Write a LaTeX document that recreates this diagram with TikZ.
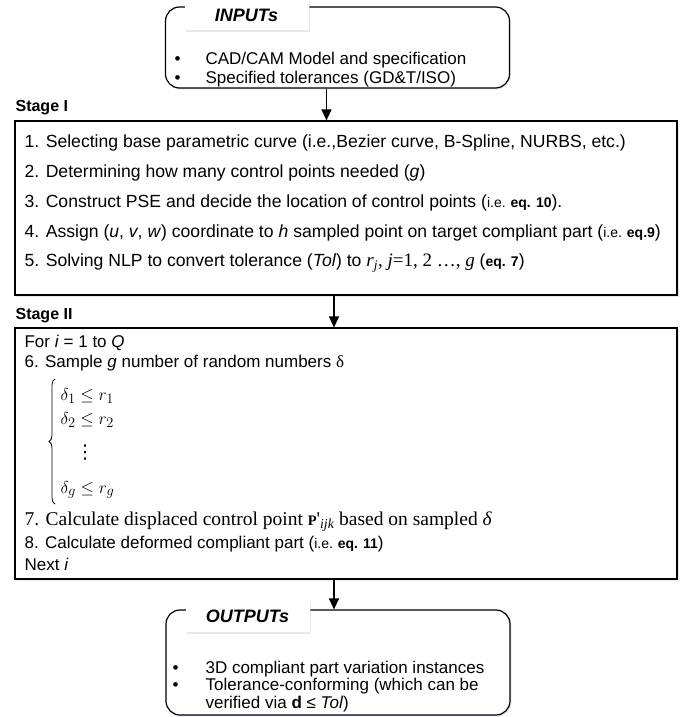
\documentclass[tikz,border=0pt]{standalone}
\usepackage{amsmath}
\usepackage{fontspec}
\setmainfont{Liberation Sans}
\newfontfamily\tnr{Liberation Serif}
\newfontfamily\dejavu{DejaVu Sans}
\usetikzlibrary{arrows.meta, shadows, decorations.pathreplacing}
\newcommand\eqlbl[1]{{\fontsize{14}{16}\selectfont\bfseries #1}}
\newcommand\iesmall{{\fontsize{14}{16}\selectfont i.e.}}

\begin{document}
\begin{tikzpicture}[x=1pt, y=-1pt, >={Triangle[length=11pt, width=10pt]}, line width=1.2pt,
    font=\fontsize{17}{19}\selectfont,
    glow/.style={drop shadow={shadow xshift=1.5pt, shadow yshift=-1.5pt, fill=blue!30!gray!35, opacity=0.4}},
    io/.style={draw, rounded corners=14pt, fill=white, glow, minimum width=344pt},
    stage/.style={draw, fill=white, glow, minimum width=662pt},
    tab/.style={fill=white, glow, minimum width=124pt, minimum height=31pt, font=\fontsize{18}{20}\selectfont\bfseries\itshape},
    lbl/.style={anchor=west, inner sep=0pt, font=\fontsize{16}{18}\selectfont\bfseries},
    item/.style={anchor=west, inner sep=0pt},
    big/.style={item, font=\fontsize{17.6}{20}\selectfont},
    row/.style={anchor=west, inner sep=0pt, font=\fontsize{19}{22}\selectfont},
    list/.style={anchor=west, inner sep=0pt, align=left}]
    \useasboundingbox (0,0) rectangle (693,717);

    % inputs
    \node[io, minimum height=81pt] (0) at (337.5,47.5) {};
    \node[tab] (0t) at (246.5,15) {INPUTs};
    \node[list] (0l) at (174,70) {\begin{tabular}{@{}p{31pt}@{}l@{}}
        • & CAD/CAM Model and specification\\
        • & Specified tolerances (GD\&T/ISO)
    \end{tabular}};

    % stage I
    \node[lbl] (1l) at (15,108) {Stage I};
    \node[stage, minimum height=174pt] (1) at (346,208) {};
    \node[big] (1a) at (24,143) {1. Selecting base parametric curve (i.e.,Bezier curve, B-Spline, NURBS, etc.)};
    \node[big] (1b) at (24,173) {2. Determining how many control points needed (\textit{g})};
    \node[big] (1c) at (24,203) {3. Construct PSE and decide the location of control points (\iesmall\ \eqlbl{eq. 10}).};
    \node[big] (1d) at (24,233) {4. Assign (\textit{u}, \textit{v}, \textit{w}) coordinate to \textit{h} sampled point on target compliant part (\iesmall\ \eqlbl{eq.9})};
    \node[big] (1e) at (24,263) {5. Solving NLP to convert tolerance (\textit{Tol}) to
        {\tnr\fontsize{19}{20}\selectfont\textit{r}\textsubscript{\itshape j}, \textit{j}=1, 2 …, \textit{g}} (\eqlbl{eq. 7})};

    % stage II
    \node[lbl] (2l) at (15,316) {Stage II};
    \node[stage, minimum height=251pt] (2) at (346,453.5) {};
    \node[item] (2a) at (24,343) {For \textit{i} = 1 to \textit{Q}};
    \node[item] (2b) at (24,363) {6. Sample \textit{g} number of random numbers {\tnr δ}};
    \node[row] (r1) at (60,396) {$\delta_1 \le r_1$};
    \node[row] (r2) at (60,420) {$\delta_2 \le r_2$};
    \node[row] (r3) at (75,453) {\dejavu ⋮};
    \node[row] (r4) at (60,490) {$\delta_g \le r_g$};
    \coordinate (bt) at (55,379);
    \coordinate (bb) at (55,504);
    \draw[decorate, decoration={brace, amplitude=6pt}, line width=0.8pt] (bb) -- (bt);
    \node[item] (2d) at (24,522) {\tnr\fontsize{19.5}{22}\selectfont 7. Calculate displaced control point
        {\fontsize{14.5}{16}\selectfont\bfseries P}'\textsubscript{\itshape ijk} based on sampled \textit{δ}};
    \node[item] (2e) at (24,544) {8. Calculate deformed compliant part (\iesmall\ \eqlbl{eq. 11})};
    \node[item] (2f) at (24,564) {Next \textit{i}};

    % outputs
    \node[io, minimum height=105pt] (3) at (338,662.5) {};
    \node[tab] (3t) at (247.5,616.5) {OUTPUTs};
    \node[list] (3l) at (172,687) {\fontsize{17}{17}\selectfont\begin{tabular}{@{}p{33pt}@{}l@{}}
        • & 3D compliant part variation instances\\
        • & Tolerance-conforming (which can be\\
          & verified via \textbf{d} ≤ \textit{Tol})
    \end{tabular}};

    % arrows
    \coordinate (a0) at ([xshift=-11pt]0.south);
    \coordinate (a1) at ([xshift=-12pt]1.south);
    \coordinate (a2) at ([xshift=-12pt]2.south);
    \path[->] (a0) edge (a0 |- 1.north)
              (a1) edge (a1 |- 2.north)
              (a2) edge (a2 |- 3.north);
\end{tikzpicture}
\end{document}
